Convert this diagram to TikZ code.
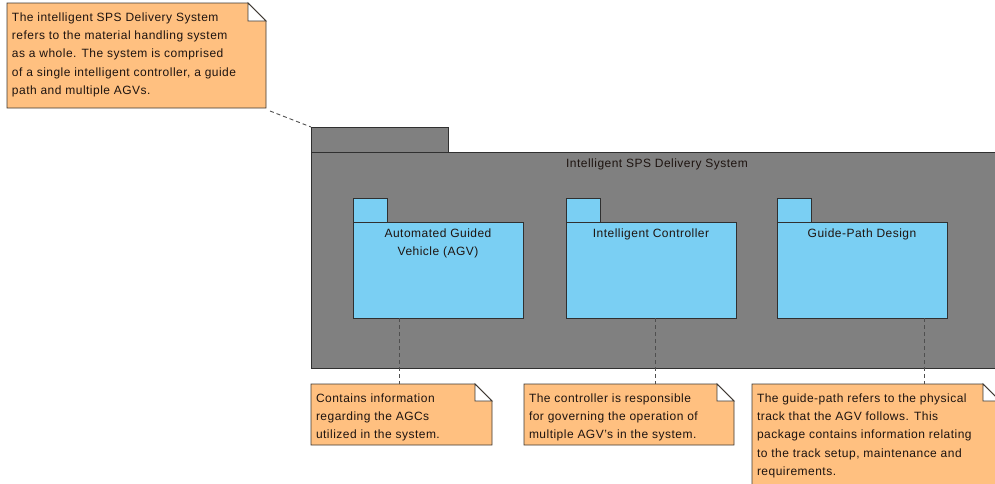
\documentclass[tikz,border=0pt]{standalone}
\usepackage{fontspec}
\setmainfont{Liberation Sans}[LetterSpace=4]
\definecolor{notefill}{HTML}{FFC080}
\definecolor{pkgblue}{HTML}{7ACFF3}
\definecolor{pkggrey}{HTML}{808080}
\definecolor{edge}{HTML}{303030}
\definecolor{inktext}{HTML}{1E1410}

\tikzset{
  geom/.style={inner sep=0pt, outer sep=0pt, anchor=north west},
  pkgbox/.style={geom, draw=edge, line width=0.9pt},
  txt/.style={inner sep=0pt, outer sep=0pt, text=inktext,
              font=\fontsize{12}{18.3}\selectfont},
  notetext/.style={txt, anchor=north west, align=left},
  pkglabel/.style={txt, anchor=north, align=center},
  conn/.style={draw=edge!85, line width=0.9pt, dash pattern=on 4pt off 3pt},
  noteline/.style={draw=edge!90!brown, line width=0.9pt},
}

% dog-eared note outline drawn round an empty geometry node
\newcommand\dogear[2]{%
  \filldraw[noteline, fill=notefill]
    (#1.north west) -- ([xshift=-#2]#1.north east)
    -- ([yshift=-#2]#1.north east) -- (#1.south east)
    -- (#1.south west) -- cycle;
  \filldraw[noteline, fill=white]
    ([xshift=-#2]#1.north east) -- ([xshift=-#2,yshift=-#2]#1.north east)
    -- ([yshift=-#2]#1.north east) -- cycle;}

\begin{document}
\begin{tikzpicture}[x=1pt,y=-1pt]
\useasboundingbox (0,0) rectangle (995,483);
\clip (0,0) rectangle (995,483);

% ---- outer package: Intelligent SPS Delivery System
\node[pkgbox, fill=pkggrey, minimum width=137pt, minimum height=25pt] (systab) at (311,127) {};
\node[pkgbox, fill=pkggrey, minimum width=692pt, minimum height=216pt] (sys) at (311,152) {};
\node[pkglabel] (systitle) at (657,158.5) {Intelligent SPS Delivery System};

% ---- inner packages
\node[pkgbox, fill=pkgblue, minimum width=34pt, minimum height=24pt] (agvtab) at (353,198) {};
\node[pkgbox, fill=pkgblue, minimum width=170pt, minimum height=96pt] (agv) at (353,222) {};
\node[pkglabel] (agvtitle) at (agv.north) [yshift=-6.5pt] {Automated Guided\\Vehicle (AGV)};

\node[pkgbox, fill=pkgblue, minimum width=34pt, minimum height=24pt] (ctltab) at (566,198) {};
\node[pkgbox, fill=pkgblue, minimum width=170pt, minimum height=96pt] (ctl) at (566,222) {};
\node[pkglabel] (ctltitle) at (ctl.north) [yshift=-6.5pt] {Intelligent Controller};

\node[pkgbox, fill=pkgblue, minimum width=34pt, minimum height=24pt] (gpdtab) at (777,198) {};
\node[pkgbox, fill=pkgblue, minimum width=170pt, minimum height=96pt] (gpd) at (777,222) {};
\node[pkglabel] (gpdtitle) at (gpd.north) [yshift=-6.5pt] {Guide-Path Design};

% ---- notes
\node[geom, minimum width=259pt, minimum height=105pt] (n1) at (7,3) {};
\dogear{n1}{18pt}
\node[notetext] (n1txt) at (12,12.5) {The intelligent SPS Delivery System\\refers to the material handling system\\as a whole. The system is comprised\\of a single intelligent controller, a guide\\path and multiple AGVs.};

\node[geom, minimum width=181pt, minimum height=61pt] (n2) at (311,384) {};
\dogear{n2}{17pt}
\node[notetext] (n2txt) at (316,393.5) {Contains information\\regarding the AGCs\\utilized in the system.};

\node[geom, minimum width=210pt, minimum height=61pt] (n3) at (524,384) {};
\dogear{n3}{17pt}
\node[notetext] (n3txt) at (529,393.5) {The controller is responsible\\for governing the operation of\\multiple AGV's in the system.};

\node[geom, minimum width=248pt, minimum height=110pt] (n4) at (752,384) {};
\dogear{n4}{17pt}
\node[notetext] (n4txt) at (757,393.5) {The guide-path refers to the physical\\track that the AGV follows. This\\package contains information relating\\to the track setup, maintenance and\\requirements.};

% ---- note anchors (dashed)
\draw[conn] ([xshift=4pt,yshift=-3pt]n1.south east) -- (systab.north west);
\draw[conn] ([xshift=-39pt]agv.south) -- ([xshift=-39pt]agv.south |- n2.north);
\draw[conn] ([xshift=4pt]ctl.south) -- ([xshift=4pt]ctl.south |- n3.north);
\draw[conn] ([xshift=62pt]gpd.south) -- ([xshift=62pt]gpd.south |- n4.north);
\end{tikzpicture}
\end{document}
